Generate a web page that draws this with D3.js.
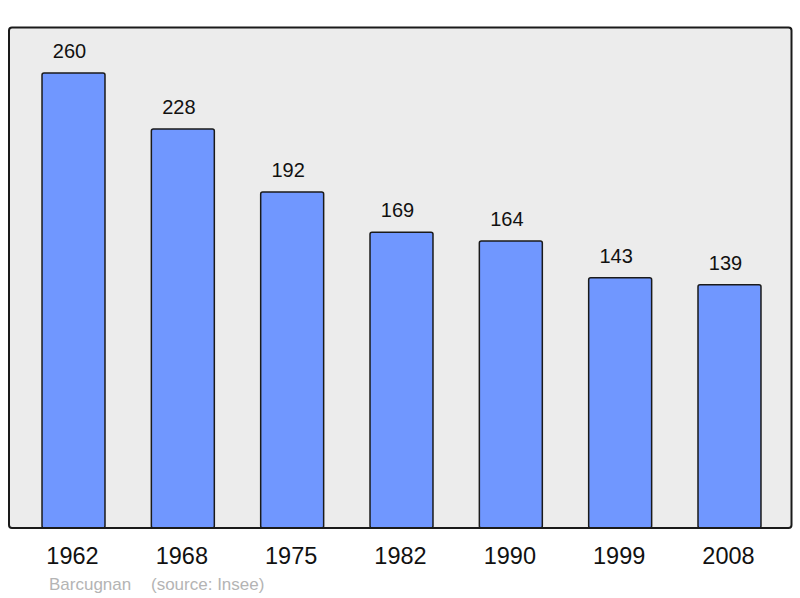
<!DOCTYPE html>
<html>
<head>
<meta charset="utf-8">
<script src="https://cdn.jsdelivr.net/npm/d3@7"></script>
<style>
  body { margin: 0; background: #fff; }
  svg { display: block; font-family: 'Liberation Sans', Arial, sans-serif; }
</style>
</head>
<body>
<svg id="chart" width="800" height="598"></svg>
<script>
const years = ['1962', '1968', '1975', '1982', '1990', '1999', '2008']
const population = [260, 228, 192, 169, 164, 143, 139]
const placeName = 'Barcugnan'
const sourceText = '(source: Insee)'

const svg = d3.select('#chart')

const frame = { left: 9, top: 27.5, right: 791.5, bottom: 528 }

const x = d3.scaleBand()
    .domain(years)
    .range([9, 794])
    .paddingInner(0.424)
    .paddingOuter(0.302)

const y = d3.scaleLinear()
    .domain([0, 260])
    .range([frame.bottom, 73])

// plot background
svg.append('rect')
    .attr('x', frame.left)
    .attr('y', frame.top)
    .attr('width', frame.right - frame.left)
    .attr('height', frame.bottom - frame.top)
    .attr('rx', 3)
    .attr('fill', '#ececec')
    .attr('stroke', 'none')

const data = years.map((yr, i) => ({ year: yr, value: population[i] }))

svg.selectAll('.bar')
    .data(data)
    .enter()
    .append('rect')
    .attr('class', 'bar')
    .attr('x', d => x(d.year))
    .attr('y', d => y(d.value))
    .attr('width', x.bandwidth())
    .attr('height', d => frame.bottom - y(d.value))
    .attr('rx', 2)
    .attr('fill', '#7097ff')
    .attr('stroke', '#1a1a1a')
    .attr('stroke-width', 1.5)

// frame on top of bars
svg.append('rect')
    .attr('x', frame.left)
    .attr('y', frame.top)
    .attr('width', frame.right - frame.left)
    .attr('height', frame.bottom - frame.top)
    .attr('rx', 3)
    .attr('fill', 'none')
    .attr('stroke', '#1a1a1a')
    .attr('stroke-width', 2)

svg.selectAll('.val')
    .data(data)
    .enter()
    .append('text')
    .attr('class', 'val')
    .attr('x', d => x(d.year) + x.bandwidth() / 2 - 4)
    .attr('y', d => y(d.value) - 15)
    .attr('text-anchor', 'middle')
    .attr('font-size', 20)
    .attr('fill', '#111')
    .text(d => d.value)

svg.selectAll('.year')
    .data(data)
    .enter()
    .append('text')
    .attr('class', 'year')
    .attr('x', d => x(d.year) + x.bandwidth() / 2 - 1)
    .attr('y', 564)
    .attr('text-anchor', 'middle')
    .attr('font-size', 23.5)
    .attr('fill', '#111')
    .text(d => d.year)

svg.append('text')
    .attr('x', 49)
    .attr('y', 590)
    .attr('font-size', 17)
    .attr('fill', '#b4b4b4')
    .text(placeName)

svg.append('text')
    .attr('x', 151)
    .attr('y', 590)
    .attr('font-size', 17)
    .attr('fill', '#b4b4b4')
    .text(sourceText)
</script>
</body>
</html>
